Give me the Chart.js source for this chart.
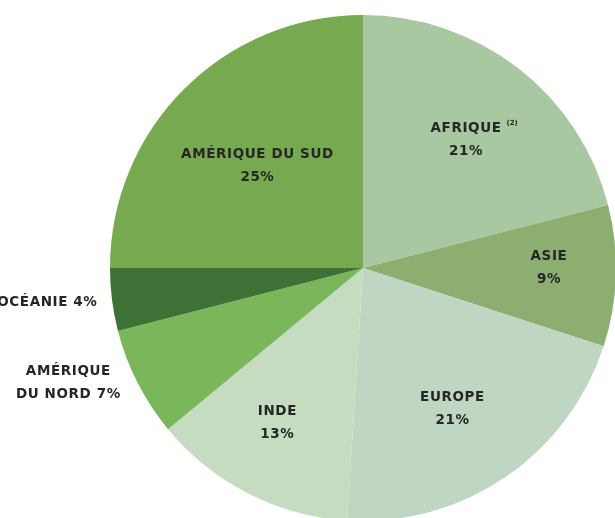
<!DOCTYPE html>
<html>
<head>
<meta charset="utf-8">
<script src="https://cdn.jsdelivr.net/npm/chart.js@4/dist/chart.umd.min.js"></script>
<style>
html,body{margin:0;padding:0;background:#fff;overflow:hidden;width:615px;height:518px;}
#wrap{position:absolute;left:0;top:0;width:620px;height:525px;}
</style>
</head>
<body>
<div id="wrap"><canvas id="c" width="620" height="525"></canvas></div>
<script>
const categories = ["AFRIQUE", "ASIE", "EUROPE", "INDE", "AMÉRIQUE DU NORD", "OCÉANIE", "AMÉRIQUE DU SUD"];
const shares = [21, 9, 21, 13, 7, 4, 25];
const labelLines = [["AFRIQUE", "21%"], ["ASIE", "9%"], ["EUROPE", "21%"], ["INDE", "13%"], ["AMÉRIQUE", "DU NORD 7%"], ["OCÉANIE 4%"], ["AMÉRIQUE DU SUD", "25%"]];
const colors = ["#a7c8a0", "#8cae70", "#bfd6c3", "#c5dcc1", "#7ab75a", "#3f7036", "#77aa50"];

// label placement: fraction of radius and angle shift (deg) relative to slice middle
const labelRadius = [0.65, 0.735, 0.66, 0.70, 1.25, 1.255, 0.58];
const labelShift = [1, -1.8, 1.8, 1.9, 5.7, 1, -1];

const FONT = "bold 13.5px 'DejaVu Sans', sans-serif";

const labelPlugin = {
  id: 'sliceLabels',
  afterDatasetsDraw(chart) {
    const ctx = chart.ctx;
    const meta = chart.getDatasetMeta(0);
    ctx.save();
    ctx.fillStyle = '#262626';
    ctx.font = FONT;
    ctx.letterSpacing = '0.6px';
    ctx.textAlign = 'center';
    ctx.textBaseline = 'middle';
    meta.data.forEach((arc, i) => {
      const p = arc.getProps(['x', 'y', 'startAngle', 'endAngle', 'outerRadius'], true);
      const mid = (p.startAngle + p.endAngle) / 2 + labelShift[i] * Math.PI / 180;
      const r = p.outerRadius * labelRadius[i];
      const x = p.x + Math.cos(mid) * r;
      const y = p.y + Math.sin(mid) * r;
      const lines = labelLines[i];
      const lh = 23.5;
      const y0 = y - (lines.length - 1) * lh / 2;
      lines.forEach((t, k) => ctx.fillText(t, x, y0 + k * lh));
      if (i === 0) {
        const w = ctx.measureText(lines[0]).width;
        ctx.save();
        ctx.font = "bold 7px 'DejaVu Sans', sans-serif";
        ctx.letterSpacing = '0px';
        ctx.textAlign = 'left';
        ctx.fillText("(2)", x + w / 2 + 5, y0 - 5);
        ctx.restore();
      }
    });
    ctx.restore();
  }
};

new Chart(document.getElementById('c'), {
  type: 'pie',
  data: {
    labels: categories,
    datasets: [{
      data: shares,
      backgroundColor: colors,
      borderWidth: 0
    }]
  },
  options: {
    responsive: false,
    animation: false,
    devicePixelRatio: 1,
    layout: { padding: { left: 110, top: 15, right: 4, bottom: 4 } },
    plugins: { legend: { display: false }, tooltip: { enabled: false } }
  },
  plugins: [labelPlugin]
});
</script>
</body>
</html>
